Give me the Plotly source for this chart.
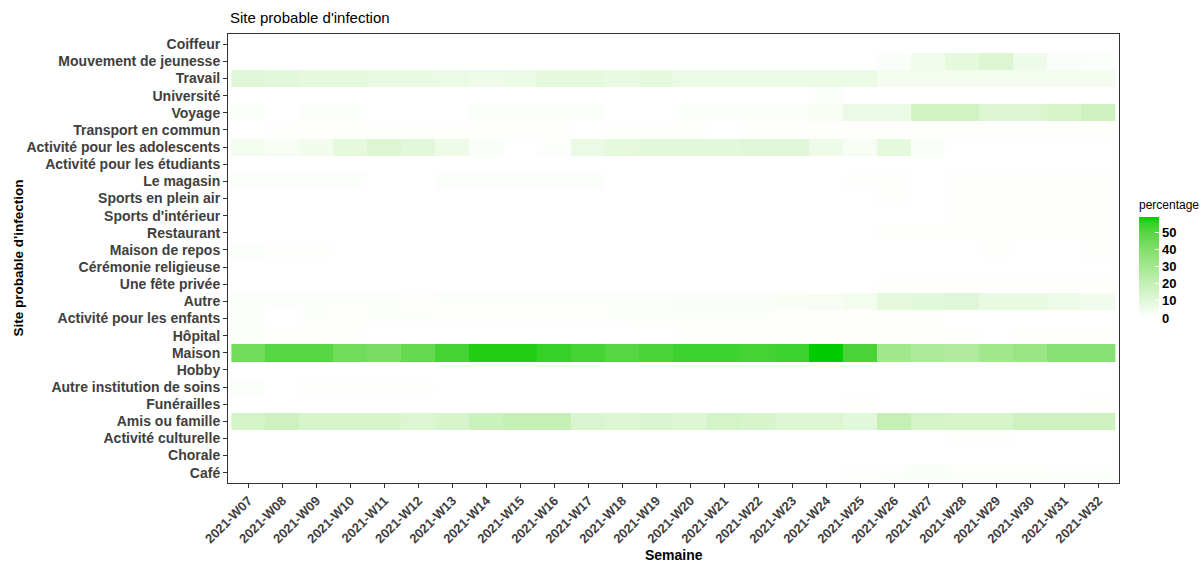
import plotly.graph_objects as go

weeks = [f"2021-W{w:02d}" for w in range(7, 33)]

sites = [
    "Coiffeur", "Mouvement de jeunesse", "Travail", "Université", "Voyage",
    "Transport en commun", "Activité pour les adolescents", "Activité pour les étudiants",
    "Le magasin", "Sports en plein air", "Sports d'intérieur", "Restaurant",
    "Maison de repos", "Cérémonie religieuse", "Une fête privée", "Autre",
    "Activité pour les enfants", "Hôpital", "Maison", "Hobby",
    "Autre institution de soins", "Funérailles", "Amis ou famille",
    "Activité culturelle", "Chorale", "Café",
]

# percentage per site, one value per week (W07 .. W32)
coiffeur = [0] * 26
mouvement_jeunesse = [0]*19 + [2, 5, 9, 12, 6, 2, 1]
travail = [11, 10, 9, 9, 8, 8, 7, 6, 7, 9, 9, 8, 9, 7, 7, 7, 7, 7, 7, 4, 4, 4, 4, 4, 4, 4]
universite = [0]*17 + [1] + [0]*8
voyage = [1, 0, 1, 1, 0, 0, 0, 1, 1, 1, 1, 0, 0, 1, 1, 1, 1.5, 3, 7, 7, 16, 16, 12, 12, 14, 17]
transport = [0, 0.5, 0.5, 0.5, 0.5, 0.5, 0.5, 0.5, 0.5, 0.5, 0, 0.5, 0.5, 0.5, 0, 0.5, 0.5, 0.5, 0.5, 0.5, 0.5, 0.5, 0.5, 0.5, 0.5, 0.5]
adolescents = [4, 3, 5, 9, 12, 10, 6, 2, 0, 1, 7, 9, 10, 10, 10, 11, 11, 6, 3, 9, 2, 0, 0, 0, 0, 0]
etudiants = [0] * 26
magasin = [1, 1, 1, 1, 0, 0, 1, 1, 1, 1, 1, 0, 0, 0, 0, 0, 0, 0, 0.5, 0.5, 0, 0.5, 0.5, 0.5, 0.5, 0.5]
sports_plein_air = [0]*19 + [0.5, 0, 0.5, 0.5, 0.5, 0.5, 0.5]
sports_interieur = [0]*21 + [0.5, 0.5, 0.5, 0.5, 0.5]
restaurant = [0]*19 + [0.5]*7
maison_repos = [1, 0.5, 0.5] + [0]*19 + [0.5, 0, 0, 0.5]
ceremonie = [0] * 26
fete_privee = [0]*19 + [0.5]*7
autre = [1, 1, 1, 1, 1, 0.5, 1, 1, 1, 1, 1, 1, 1, 2, 2, 2, 2.5, 3, 4, 9, 10, 11, 8, 8, 6, 5]
enfants = [1, 0.3, 0.7, 0.5, 1, 1, 0.5, 0.5, 0.5, 0.5, 0.5, 1, 1.5, 1, 1, 1, 0.5, 0.5, 0.5, 0.5, 0.5, 0, 0, 0, 0, 0]
hopital = [1, 0.5, 0.5, 0.5, 0.3, 0.3, 0.3, 0.3, 0.3, 0.3, 0.3, 0.3, 0.3, 0.5, 0.5, 0.5, 0.5, 0.5, 0.5, 0.5, 0.5, 0.5, 0, 0.5, 0.5, 0.5]
maison = [44, 50, 50, 44, 42, 47, 53, 57, 57, 55, 53, 50, 52, 54, 54, 53, 54, 59, 52, 31, 28, 26, 31, 33, 38, 38]
hobby = [0] * 26
autre_institution = [1, 0, 0.5, 0.5, 0.5, 0.5] + [0]*20
funerailles = [0]*18 + [0.5] + [0]*6 + [0.5]
amis_famille = [15, 17, 14, 14, 14, 12, 14, 18, 20, 20, 13, 12, 13, 12, 15, 14, 12, 12, 10, 20, 15, 14, 14, 17, 17, 17]
culturelle = [0]*21 + [0.5, 0.5, 0, 0, 0]
chorale = [0] * 26
cafe = [0]*18 + [0.5, 1, 2, 1.5, 1.5, 1.5, 1, 1]

z = [
    coiffeur, mouvement_jeunesse, travail, universite, voyage, transport,
    adolescents, etudiants, magasin, sports_plein_air, sports_interieur,
    restaurant, maison_repos, ceremonie, fete_privee, autre, enfants, hopital,
    maison, hobby, autre_institution, funerailles, amis_famille, culturelle,
    chorale, cafe,
]


# white -> green gradient interpolated in CIE Lab space
def _srgb_to_lin(c):
    c = c / 255.0
    return c / 12.92 if c <= 0.04045 else ((c + 0.055) / 1.055) ** 2.4


def _lin_to_srgb(c):
    c = max(0.0, min(1.0, c))
    v = 12.92 * c if c <= 0.0031308 else 1.055 * c ** (1 / 2.4) - 0.055
    return int(round(v * 255))


_WHITE = (0.95047, 1.0, 1.08883)


def _f(t):
    return t ** (1 / 3) if t > 0.008856 else 7.787 * t + 16 / 116


def _finv(t):
    return t ** 3 if t ** 3 > 0.008856 else (t - 16 / 116) / 7.787


def rgb_to_lab(rgb):
    r, g, b = (_srgb_to_lin(v) for v in rgb)
    x = 0.4124 * r + 0.3576 * g + 0.1805 * b
    y = 0.2126 * r + 0.7152 * g + 0.0722 * b
    zz = 0.0193 * r + 0.1192 * g + 0.9505 * b
    fx, fy, fz = _f(x / _WHITE[0]), _f(y / _WHITE[1]), _f(zz / _WHITE[2])
    return (116 * fy - 16, 500 * (fx - fy), 200 * (fy - fz))


def lab_to_rgb(lab):
    L, a, b = lab
    fy = (L + 16) / 116
    fx = fy + a / 500
    fz = fy - b / 200
    x, y, zz = _finv(fx) * _WHITE[0], _finv(fy) * _WHITE[1], _finv(fz) * _WHITE[2]
    r = 3.2406 * x - 1.5372 * y - 0.4986 * zz
    g = -0.9689 * x + 1.8758 * y + 0.0415 * zz
    bb = 0.0557 * x - 0.2040 * y + 1.0570 * zz
    return tuple(_lin_to_srgb(v) for v in (r, g, bb))


low, high = rgb_to_lab((255, 255, 255)), rgb_to_lab((0, 205, 0))
colorscale = []
for i in range(21):
    t = i / 20
    lab = tuple(lo + (hi - lo) * t for lo, hi in zip(low, high))
    colorscale.append([t, "rgb(%d,%d,%d)" % lab_to_rgb(lab)])

zmax = max(max(row) for row in z)

W, H = 1204, 564
ML, MR, MT, MB = 228, 85, 34, 81
PW, PH = W - ML - MR, H - MT - MB
font_family = "Liberation Sans, Arial, sans-serif"
tick_color = "#404040"

fig = go.Figure(
    go.Heatmap(
        z=z,
        x=weeks,
        y=sites,
        zmin=0,
        zmax=zmax,
        colorscale=colorscale,
        colorbar=dict(
            tickvals=[0, 10, 20, 30, 40, 50],
            ticks="inside",
            ticklen=4,
            tickcolor="white",
            tickwidth=1,
            tickfont=dict(size=13, color="black", family=font_family, weight="bold"),
            thickness=20,
            lenmode="pixels",
            len=101,
            x=(1139 - ML) / PW,
            xanchor="left",
            y=1 - (217 - MT) / PH,
            yanchor="top",
            outlinewidth=0,
            xpad=0,
            ypad=0,
        ),
        hovertemplate="%{y}<br>%{x}<br>%{z}%<extra></extra>",
    )
)

fig.update_layout(
    width=W,
    height=H,
    margin=dict(l=ML, r=MR, t=MT, b=MB),
    paper_bgcolor="white",
    plot_bgcolor="white",
    font=dict(family=font_family),
    xaxis=dict(
        range=[-0.6, len(weeks) - 0.4],
        tickangle=-45,
        ticks="outside",
        ticklen=4,
        tickcolor="#333333",
        tickfont=dict(size=13, color=tick_color, family=font_family, weight="bold"),
        showline=True,
        linecolor="#333333",
        linewidth=1,
        mirror=True,
        showgrid=False,
        zeroline=False,
    ),
    yaxis=dict(
        range=[len(sites) - 0.4, -0.6],
        ticks="outside",
        ticklen=4,
        tickcolor="#333333",
        tickfont=dict(size=14, color=tick_color, family=font_family, weight="bold"),
        showline=True,
        linecolor="#333333",
        linewidth=1,
        mirror=True,
        showgrid=False,
        zeroline=False,
    ),
    annotations=[
        dict(text="Site probable d'infection", xref="paper", yref="paper",
             x=0, y=1 + 16 / PH, xanchor="left", yanchor="middle", showarrow=False,
             font=dict(size=15, color="black", family=font_family)),
        dict(text="Site probable d'infection", xref="paper", yref="paper",
             x=-(ML - 18) / PW, y=0.5, xanchor="center", yanchor="middle",
             textangle=-90, showarrow=False,
             font=dict(size=13.5, color="black", family=font_family, weight="bold")),
        dict(text="Semaine", xref="paper", yref="paper",
             x=0.5, y=-(555 - (H - MB)) / PH, xanchor="center", yanchor="middle",
             showarrow=False,
             font=dict(size=14, color="black", family=font_family, weight="bold")),
        dict(text="percentage", xref="paper", yref="paper",
             x=(1137 - ML) / PW, y=1 - (205 - MT) / PH, xanchor="left", yanchor="middle",
             showarrow=False,
             font=dict(size=12, color="black", family=font_family)),
    ],
)

fig.write_html("out.html")
